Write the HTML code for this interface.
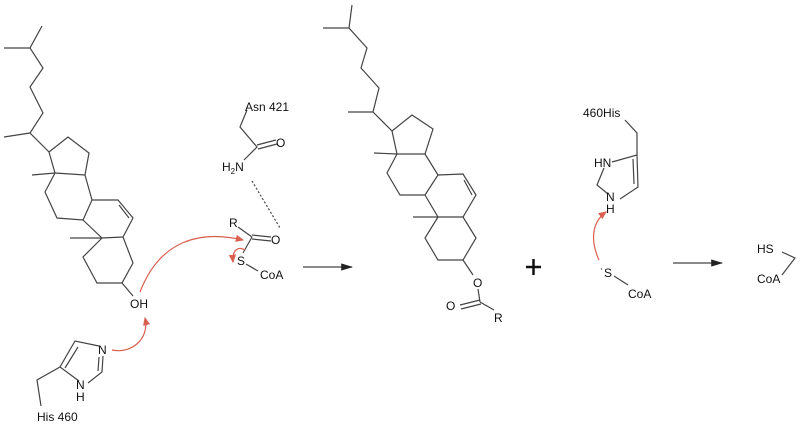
<!DOCTYPE html>
<html><head><meta charset="utf-8"><style>
html,body{margin:0;padding:0;background:#fff;}
svg{display:block;}
text{font-family:"Liberation Sans",sans-serif;font-size:12px;fill:#111;}
</style></head><body>
<svg width="800" height="426" viewBox="0 0 800 426">
<defs>
<marker id="ah" markerWidth="8" markerHeight="8" refX="6" refY="3" orient="auto"><path d="M0,0 L7,3 L0,6 Z" fill="#d9604f"/></marker>
<marker id="bk" markerWidth="10" markerHeight="8" refX="9" refY="3" orient="auto"><path d="M0,0 L10,3 L0,6 Z" fill="#222"/></marker>
</defs>
<g stroke="#444" stroke-width="1.2" fill="none">
<!-- left cholesterol -->
<polyline points="42,26 30,48 43,68 30,87 43,113 30,133 49,152"/>
<line x1="30" y1="48" x2="4" y2="48"/>
<line x1="30" y1="133" x2="4" y2="137"/>
<polygon points="49,152 68,137 89,153 85,175 55,173"/>
<line x1="55" y1="173" x2="32" y2="175"/>
<polyline points="55,173 45,192 57,218 83,220 92,200 85,175"/>
<polyline points="92,200 118,200 133,218 123,237 102,238 83,220"/>
<line x1="119" y1="205" x2="129" y2="218"/>
<line x1="102" y1="238" x2="70" y2="238"/>
<polyline points="102,238 83,257 97,283 122,283 133,263 123,237"/>
<line x1="122" y1="283" x2="133" y2="296"/>
<!-- imidazole left -->
<polyline points="99,346 75,341 60,367 79,381"/>
<line x1="78" y1="347" x2="65" y2="368"/>
<polyline points="88,383 102,372 103,356"/>
<line x1="98" y1="371" x2="99" y2="357"/>
<polyline points="60,367 37,380 41,406"/>
<!-- Asn -->
<polyline points="247,110 240,127 257,147 244,160"/>
<line x1="257" y1="145" x2="276" y2="140"/>
<line x1="258" y1="149" x2="277" y2="144"/>
<line x1="252" y1="181" x2="280" y2="228" stroke-dasharray="2,2"/>
<!-- acyl CoA -->
<line x1="238" y1="227" x2="252" y2="237"/>
<line x1="252" y1="235" x2="271" y2="237"/>
<line x1="252" y1="239" x2="271" y2="241"/>
<line x1="252" y1="237" x2="243" y2="253"/>
<line x1="246" y1="264" x2="258" y2="271"/>
<!-- arrows -->
<line x1="303" y1="267" x2="352" y2="267" marker-end="url(#bk)"/>
<line x1="673" y1="263" x2="722" y2="263" marker-end="url(#bk)"/>
<!-- right cholesterol -->
<polyline points="352,5 349,28 367,48 361,68 379,88 373,112 392,131"/>
<line x1="349" y1="28" x2="323" y2="28"/>
<line x1="373" y1="112" x2="348" y2="112"/>
<polygon points="392,131 412,115 433,129 425,154 397,154"/>
<line x1="397" y1="154" x2="374" y2="153"/>
<polyline points="397,154 387,173 400,195 425,195 438,175 425,154"/>
<polyline points="438,175 463,174 476,195 463,217 438,217 425,195"/>
<line x1="464" y1="180" x2="472" y2="195"/>
<line x1="438" y1="217" x2="413" y2="217"/>
<polyline points="438,217 425,238 438,260 463,260 476,238 463,217"/>
<line x1="463" y1="260" x2="473" y2="275"/>
<line x1="478" y1="289" x2="480" y2="302"/>
<line x1="480" y1="300" x2="460" y2="305"/>
<line x1="481" y1="304" x2="461" y2="309"/>
<line x1="480" y1="302" x2="494" y2="310"/>
<!-- plus -->
<line x1="526" y1="267" x2="541" y2="267" stroke="#111" stroke-width="2.5"/>
<line x1="533.5" y1="259" x2="533.5" y2="275" stroke="#111" stroke-width="2.5"/>
<!-- right imidazole -->
<polyline points="625,120 637,133 637,155"/>
<polyline points="612,162 637,155 638,187 620,199"/>
<line x1="633" y1="159" x2="634" y2="184"/>
<polyline points="604,168 597,185 608,194"/>
<line x1="614" y1="276" x2="628" y2="285"/>
<!-- HS CoA -->
<polyline points="782,252 795,258 782,275"/>
</g>
<!-- red arrows -->
<g stroke="#d9604f" stroke-width="1.2" fill="none">
<path d="M112,350 C130,354 150,340 145,318" marker-end="url(#ah)"/>
<path d="M140,292 C160,240 200,230 243,240" marker-end="url(#ah)"/>
<path d="M245,250 C238,246 232,250 233,262" marker-end="url(#ah)"/>
<path d="M599,260 C590,240 592,222 606,212" marker-end="url(#ah)"/>
</g>
<text x="130" y="308">OH</text>
<text x="98" y="354">N</text>
<text x="76" y="389">N</text>
<text x="76" y="401">H</text>
<text x="37" y="421">His 460</text>
<text x="245" y="111">Asn 421</text>
<text x="276" y="147">O</text>
<text x="222" y="171">H<tspan font-size="8" dy="3">2</tspan><tspan dy="-3">N</tspan></text>
<text x="229" y="227">R</text>
<text x="271" y="244">O</text>
<text x="237" y="265">S</text>
<text x="260" y="279">CoA</text>
<text x="473" y="287">O</text>
<text x="446" y="310">O</text>
<text x="494" y="322">R</text>
<text x="583" y="117">460His</text>
<text x="594" y="167">HN</text>
<text x="606" y="201">N</text>
<text x="606" y="213">H</text>
<text x="600" y="277">˙S</text>
<text x="628" y="298">CoA</text>
<text x="757" y="253">HS</text>
<text x="757" y="283">CoA</text>
</svg>
</body></html>
